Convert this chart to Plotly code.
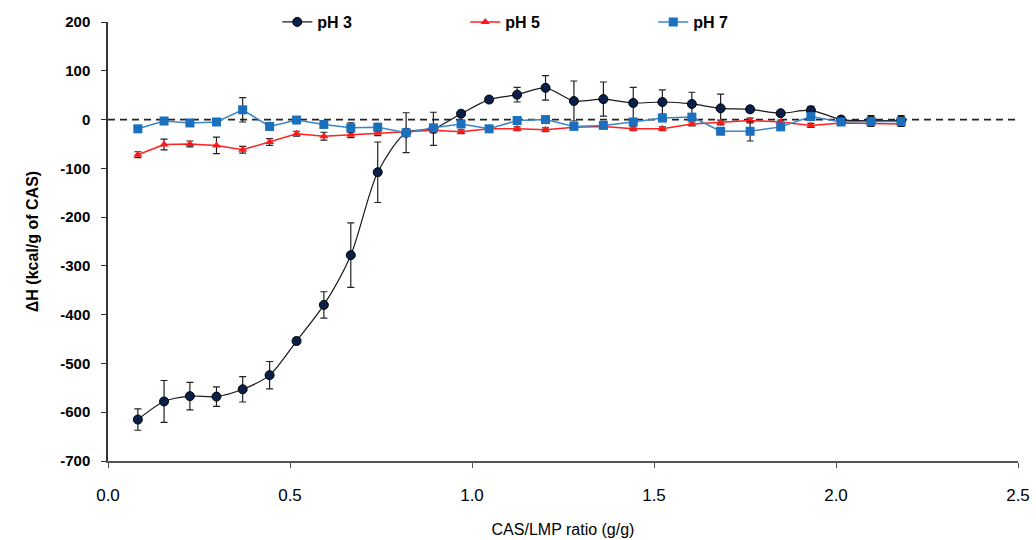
import plotly.graph_objects as go

# CAS/LMP ratio (g/g)
ratio = [0.082, 0.154, 0.225, 0.298, 0.370, 0.444, 0.518, 0.593, 0.667, 0.741,
         0.819, 0.894, 0.970, 1.047, 1.124, 1.202, 1.280, 1.361, 1.443, 1.523,
         1.604, 1.683, 1.764, 1.848, 1.931, 2.014, 2.096, 2.179]

ph3 = [-615, -578, -567, -568, -553, -524, -454, -380, -278, -108,
       -27, -19, 12, 41, 51, 65, 38, 42, 34, 36,
       32, 23, 21, 13, 19, 0, -2, -2]
ph3_err = [22, 43, 28, 20, 26, 28, 6, 27, 66, 62,
           41, 34, 5, 6, 15, 25, 41, 35, 32, 25,
           24, 29, 6, 5, 8, 6, 10, 10]

ph5 = [-72, -51, -50, -53, -62, -46, -29, -34, -31, -27,
       -25, -22, -25, -19, -19, -21, -16, -14, -19, -19,
       -9, -6, -2, -5, -12, -7, -8, -9]
ph5_err = [6, 11, 6, 17, 7, 7, 5, 8, 6, 6,
           5, 5, 4, 4, 4, 4, 4, 4, 4, 4,
           4, 5, 5, 4, 4, 4, 4, 4]

ph7 = [-19, -3, -7, -5, 20, -14, -1, -10, -17, -16,
       -27, -17, -9, -19, -2, 0, -14, -12, -5, 3,
       5, -24, -24, -15, 6, -5, -4, -4]
ph7_err = [4, 5, 6, 5, 25, 7, 4, 6, 10, 8,
           5, 5, 5, 5, 5, 5, 5, 5, 5, 5,
           5, 6, 20, 5, 5, 6, 10, 10]

series_names = ["pH 3", "pH 5", "pH 7"]
x_ticks = [0.0, 0.5, 1.0, 1.5, 2.0, 2.5]
y_ticks = [200, 100, 0, -100, -200, -300, -400, -500, -600, -700]

NARROW = "Liberation Sans Narrow, Arial Narrow, Liberation Sans, sans-serif"
BOLD = "Liberation Sans, Arial, sans-serif"

fig = go.Figure()

fig.add_trace(go.Scatter(
    x=ratio, y=ph3, name=series_names[0], mode="lines+markers",
    line=dict(color="#1a1a1a", width=1.2, shape="spline", smoothing=0.8),
    marker=dict(symbol="circle", size=9, color="#0a1f4a",
                line=dict(color="#000000", width=1)),
    error_y=dict(type="data", array=ph3_err, visible=True,
                 color="#222222", thickness=1.2, width=3.5),
))

fig.add_trace(go.Scatter(
    x=ratio, y=ph5, name=series_names[1], mode="lines+markers",
    line=dict(color="#ff2020", width=1.5),
    marker=dict(symbol="triangle-up", size=8, color="#ff1a1a"),
    error_y=dict(type="data", array=ph5_err, visible=True,
                 color="#222222", thickness=1.2, width=3.5),
))

fig.add_trace(go.Scatter(
    x=ratio, y=ph7, name=series_names[2], mode="lines+markers",
    line=dict(color="#3a86c8", width=1.5),
    marker=dict(symbol="square", size=9, color="#1a70bf"),
    error_y=dict(type="data", array=ph7_err, visible=True,
                 color="#222222", thickness=1.2, width=3.5),
))

fig.add_shape(type="line", xref="x", yref="y",
              x0=x_ticks[0], x1=x_ticks[-1], y0=0, y1=0,
              line=dict(color="#222222", width=1.8, dash="7px,5px"),
              layer="below")

fig.update_layout(
    width=1036, height=540,
    margin=dict(l=108, r=18, t=22, b=79, autoexpand=False),
    paper_bgcolor="white", plot_bgcolor="white",
    showlegend=True,
    legend=dict(orientation="h", x=0.186, y=1.0, xanchor="left", yanchor="middle",
                entrywidth=143, entrywidthmode="pixels",
                font=dict(family=BOLD, size=16, color="#000000", weight="bold"),
                bgcolor="rgba(0,0,0,0)", itemwidth=30),
    xaxis=dict(range=[0, 2.5], tickvals=x_ticks, ticktext=[f"{v:.1f}" for v in x_ticks],
               showgrid=False, zeroline=False, showline=True, automargin=False,
               linecolor="#555555", linewidth=1.5, ticks="outside", ticklen=5,
               tickcolor="#555555", ticklabelstandoff=13,
               tickfont=dict(family=NARROW, size=17, color="#000000"),
               title=dict(text="CAS/LMP ratio (g/g)", standoff=20,
                          font=dict(family=NARROW, size=16, color="#000000"))),
    yaxis=dict(range=[-700, 200], tickvals=y_ticks, ticktext=[str(v) for v in y_ticks],
               showgrid=False, zeroline=False, showline=True, automargin=False,
               linecolor="#333333", linewidth=1.5, ticks="outside", ticklen=5,
               tickcolor="#333333", ticklabelstandoff=8,
               tickfont=dict(family=BOLD, size=15, color="#000000", weight="bold"),
               title=dict(text="ΔH (kcal/g of CAS)", standoff=18,
                          font=dict(family=NARROW, size=16, color="#000000", weight="bold"))),
)

fig.write_html("out.html", config={"displayModeBar": False},
               post_script="document.body.style.margin='0';document.body.style.padding='0';")
